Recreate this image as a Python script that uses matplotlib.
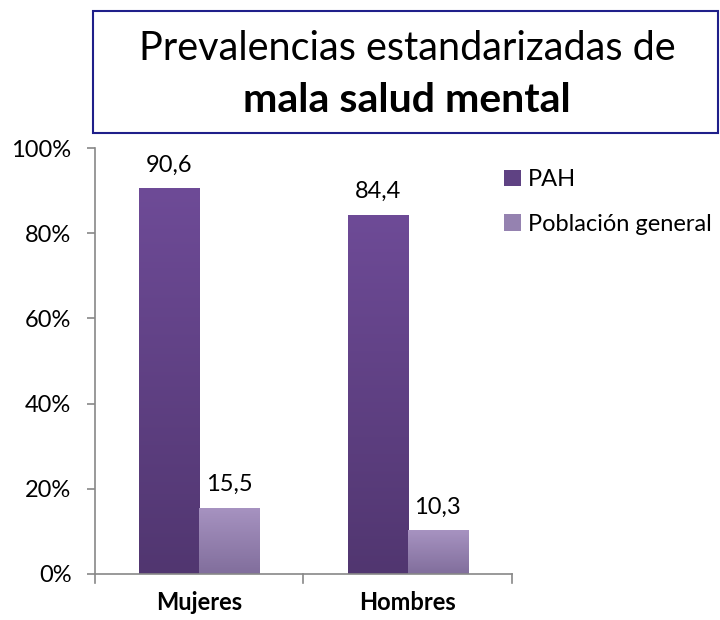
import numpy as np
import matplotlib.pyplot as plt
from matplotlib.colors import LinearSegmentedColormap
from matplotlib.patches import Rectangle

plt.rcParams['font.family'] = ['Lato', 'DejaVu Sans']

categories = ['Mujeres', 'Hombres']
series_names = ['PAH', 'Población general']
pah = [90.6, 84.4]
poblacion = [15.5, 10.3]
value_labels_pah = ['90,6', '84,4']
value_labels_pob = ['15,5', '10,3']
yticks = [0, 20, 40, 60, 80, 100]
ytick_labels = ['0%', '20%', '40%', '60%', '80%', '100%']

# gradient top -> bottom
pah_cols = ['#6e4b97', '#513670']
pob_cols = ['#a793c1', '#816e9c']

fig = plt.figure(figsize=(7.2, 6.2), dpi=100)
ax = fig.add_axes([0.132, 0.0742, 0.579, 0.687])

x = np.arange(len(categories))
w = 0.288
bars1 = ax.bar(x - w / 2, pah, w, color=pah_cols[0], label=series_names[0])
bars2 = ax.bar(x + w / 2, poblacion, w, color=pob_cols[0], label=series_names[1])

grad = np.linspace(1, 0, 256).reshape(-1, 1)
for bars, cols in [(bars1, pah_cols), (bars2, pob_cols)]:
    cmap = LinearSegmentedColormap.from_list('g', [cols[1], cols[0]])
    for b in bars:
        b.set_facecolor('none')
        b.set_edgecolor('none')
        x0, y0 = b.get_x(), b.get_y()
        im = ax.imshow(grad, cmap=cmap, aspect='auto', vmin=0, vmax=1,
                       extent=[x0, x0 + b.get_width(), y0, y0 + b.get_height()],
                       zorder=2)
        im.set_clip_path(b)

for i in range(len(categories)):
    ax.annotate(value_labels_pah[i], (x[i] - w / 2, pah[i]), xytext=(0, 12),
                textcoords='offset points', ha='center', va='baseline', fontsize=17)
    ax.annotate(value_labels_pob[i], (x[i] + w / 2, poblacion[i]), xytext=(0, 12),
                textcoords='offset points', ha='center', va='baseline', fontsize=17)

ax.set_xlim(-0.5, 1.5)
ax.set_ylim(0, 100)
ax.set_yticks(yticks)
ax.set_yticklabels(ytick_labels, fontsize=17)
ax.set_xticks(x)
ax.set_xticklabels(categories, fontsize=17, fontweight='bold')
ax.tick_params(axis='x', length=0, pad=12)
ax.tick_params(axis='y', length=6, width=1.2, color='#888888', pad=11)
for t in [-0.5, 0.5, 1.5]:
    ax.plot([t, t], [0, -2], color='#888888', lw=1.2, clip_on=False)
for s in ['top', 'right']:
    ax.spines[s].set_visible(False)
ax.spines['left'].set_color('#888888')
ax.spines['bottom'].set_color('#888888')
ax.spines['left'].set_linewidth(1.2)
ax.spines['bottom'].set_linewidth(1.2)

h1 = Rectangle((0, 0), 1, 1, facecolor='#5f4283')
h2 = Rectangle((0, 0), 1, 1, facecolor='#9582b0')
ax.legend([h1, h2], series_names, loc='upper left', bbox_to_anchor=(0.982, 0.95),
          frameon=False, fontsize=17, handlelength=0.7, handleheight=0.7,
          labelspacing=1.0, handletextpad=0.3, borderaxespad=0, borderpad=0)

# title box
fig.patches.append(Rectangle((93 / 720, 1 - 133 / 620), 625 / 720, 122 / 620,
                             transform=fig.transFigure, facecolor='white',
                             edgecolor='#1f1f8a', lw=1.5))
fig.text(407 / 720, 1 - 60 / 620, 'Prevalencias estandarizadas de', ha='center',
         va='baseline', fontsize=28.5)
fig.text(407 / 720, 1 - 112 / 620, 'mala salud mental', ha='center',
         va='baseline', fontsize=29.5, fontweight='bold')

fig.savefig('out.png', dpi=100)
